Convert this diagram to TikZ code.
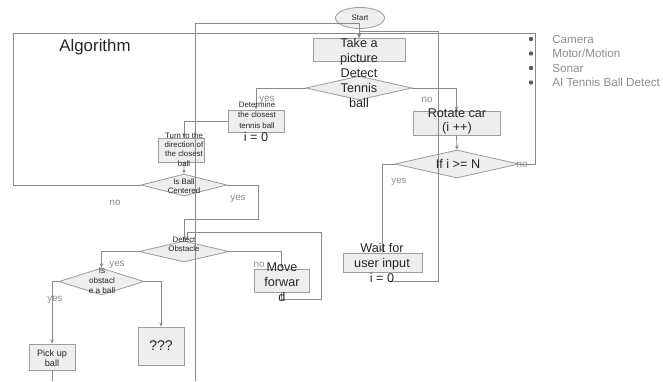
\documentclass[tikz,border=0pt]{standalone}
\usepackage{fontspec}
\setmainfont{Liberation Sans}
\usetikzlibrary{arrows.meta,shapes.geometric}

\definecolor{linegray}{HTML}{8A8A8A}
\definecolor{boxfill}{HTML}{EEEEEE}
\definecolor{boxdraw}{HTML}{9E9E9E}
\definecolor{labelgray}{HTML}{8C8C8C}
\definecolor{textdark}{HTML}{262626}
\definecolor{dotgray}{HTML}{5A5A5A}

\begin{document}
\begin{tikzpicture}[
  x=0.025cm,
  y=-0.025cm,
  box/.style={
    rectangle,
    draw=boxdraw,
    fill=boxfill,
    line width=0.6pt,
    inner sep=0pt
  },
  dec/.style={
    diamond,
    draw=boxdraw,
    fill=boxfill,
    line width=0.6pt,
    inner sep=0pt
  },
  big/.style={align=center, inner sep=0pt, text=textdark, font=\fontsize{9}{10.5}\selectfont},
  small/.style={align=center, inner sep=0pt, text=textdark, font=\fontsize{5.6}{7}\selectfont},
  lbl/.style={inner sep=0pt, text=labelgray, font=\fontsize{7}{8}\selectfont},
  item/.style={anchor=west, inner sep=0pt, text=labelgray, font=\fontsize{8.3}{9}\selectfont},
  arr/.style={-{Stealth[length=3pt,width=2.5pt]}, draw=linegray, line width=0.6pt},
  wire/.style={draw=linegray, line width=0.6pt}
]
\useasboundingbox (0,0) rectangle (663,381);

% shapes
\node[ellipse, draw=boxdraw, fill=boxfill, line width=0.6pt, minimum width=1.225cm, minimum height=0.525cm, inner sep=0pt] (start) at (360,18) {};
\node[box, minimum width=2.3cm, minimum height=0.575cm] (take) at (359,49.5) {};
\node[dec, minimum width=2.65cm, minimum height=0.6cm] (detect) at (359,88) {};
\node[box, minimum width=1.4cm, minimum height=0.55cm] (determine) at (256,121) {};
\node[box, minimum width=1.15cm, minimum height=0.6cm] (turn) at (181,150) {};
\node[dec, minimum width=2.15cm, minimum height=0.55cm] (centered) at (184,185) {};
\node[dec, minimum width=2.25cm, minimum height=0.525cm] (obstacle) at (184,251.5) {};
\node[box, minimum width=1.375cm, minimum height=0.575cm] (forward) at (281.5,280.5) {};
\node[dec, minimum width=2.125cm, minimum height=0.675cm] (isball) at (101.5,281.5) {};
\node[box, minimum width=1.15cm, minimum height=0.65cm] (pickup) at (52,357) {};
\node[box, minimum width=1.15cm, minimum height=0.95cm] (unknown) at (161,346) {};
\node[box, minimum width=2.175cm, minimum height=0.6cm] (rotate) at (456.5,123) {};
\node[dec, minimum width=3.1cm, minimum height=0.7cm] (limit) at (457,164) {};
\node[box, minimum width=1.975cm, minimum height=0.475cm] (wait) at (382.5,262.5) {};

\coordinate (bottomin) at (195,381);
\coordinate (pickout) at (52,381);
\coordinate (waitout) at (390,281);

% connectors
\draw[arr] (start) -- (take);
\draw[arr] (bottomin) |- ([yshift=0.35cm]take.north) -- (take.north);
\draw[arr] (waitout) -| (438,31) -| (take.north);
\draw[arr] (centered.west) -| (13,33) -| (take.north);
\draw[arr] (limit.east) -| (535,33) -| (take.north);
\draw[arr] (detect.west) -| (determine.north);
\draw[arr] (determine.west) -| ([xshift=0.075cm]turn.north);
\draw[arr] ([xshift=0.075cm]turn.south) -- (centered.north);
\draw[arr] (centered.east) -| (258,219) -| (obstacle.north);
\draw[arr] (forward.south) -- ++(0,7) -| (321,232) -| ([xshift=0.075cm]obstacle.north);
\draw[arr] (obstacle.east) -| (forward.north);
\draw[arr] (obstacle.west) -| (isball.north);
\draw[arr] (isball.west) -| (pickup.north);
\draw[arr] (isball.east) -| (unknown.north);
\draw[wire] (pickup.south) -- (pickout);
\draw[arr] (detect.east) -| (rotate.north);
\draw[arr] (rotate.south) -- (limit.north);
\draw[arr] (limit.west) -| (wait.north);

% texts
\node[small] (start-t) at (360,18) {Start};
\node[big] (take-t) at (359,52) {Take a\\picture};
\node[big] (detect-t) at (359,88) {Detect\\Tennis\\ball};
\node[small, font=\fontsize{5.6}{7.4}\selectfont] (determine-t) at (257,115) {Determine\\the closest\\tennis ball};
\node[big] (izero-t) at (256,137) {i = 0};
\node[small, font=\fontsize{5.6}{6.6}\selectfont] (turn-t) at (184,149.5) {Turn to the\\direction of\\the closest\\ball};
\node[small, font=\fontsize{5.6}{6.6}\selectfont] (centered-t) at (184,186) {Is Ball\\Centered};
\node[small, font=\fontsize{5.6}{6.6}\selectfont] (obstacle-t) at (184,244) {Detect\\Obstacle};
\node[small, font=\fontsize{5.8}{7}\selectfont] (isball-t) at (102,281) {Is\\obstacl\\e a ball};
\node[small, font=\fontsize{6.5}{7}\selectfont] (pickup-t) at (52,358) {Pick up\\ball};
\node[big, font=\fontsize{10}{11}\selectfont] (unknown-t) at (161,346) {???};
\node[big] (forward-t) at (282,282) {Move\\forwar\\d};
\node[big, font=\fontsize{9}{9.4}\selectfont] (rotate-t) at (457,121.5) {Rotate car\\(i ++)};
\node[big] (limit-t) at (458,164) {If i >= N};
\node[big] (wait-t) at (382,263) {Wait for\\user input\\i = 0};
\node[inner sep=0pt, text=textdark, font=\fontsize{12}{13}\selectfont] (title) at (95,47) {Algorithm};

% branch labels
\node[lbl] (yes1) at (267,100) {yes};
\node[lbl] (no1) at (427,100) {no};
\node[lbl] (no2) at (115,203) {no};
\node[lbl] (yes2) at (238,199) {yes};
\node[lbl] (no3) at (259,265) {no};
\node[lbl] (yes3) at (117,265) {yes};
\node[lbl] (yes4) at (55,300) {yes};
\node[lbl] (no4) at (522,165) {no};
\node[lbl] (yes5) at (399,182) {yes};

% parts list
\foreach \part [count=\i] in {Camera, Motor/Motion, Sonar, AI Tennis Ball Detect} {
  \fill[dotgray] (531,{39+14.5*(\i-1)}) circle (2.2);
  \node[item] (part\i) at (552,{39+14.5*(\i-1)}) {\part};
}
\end{tikzpicture}
\end{document}
